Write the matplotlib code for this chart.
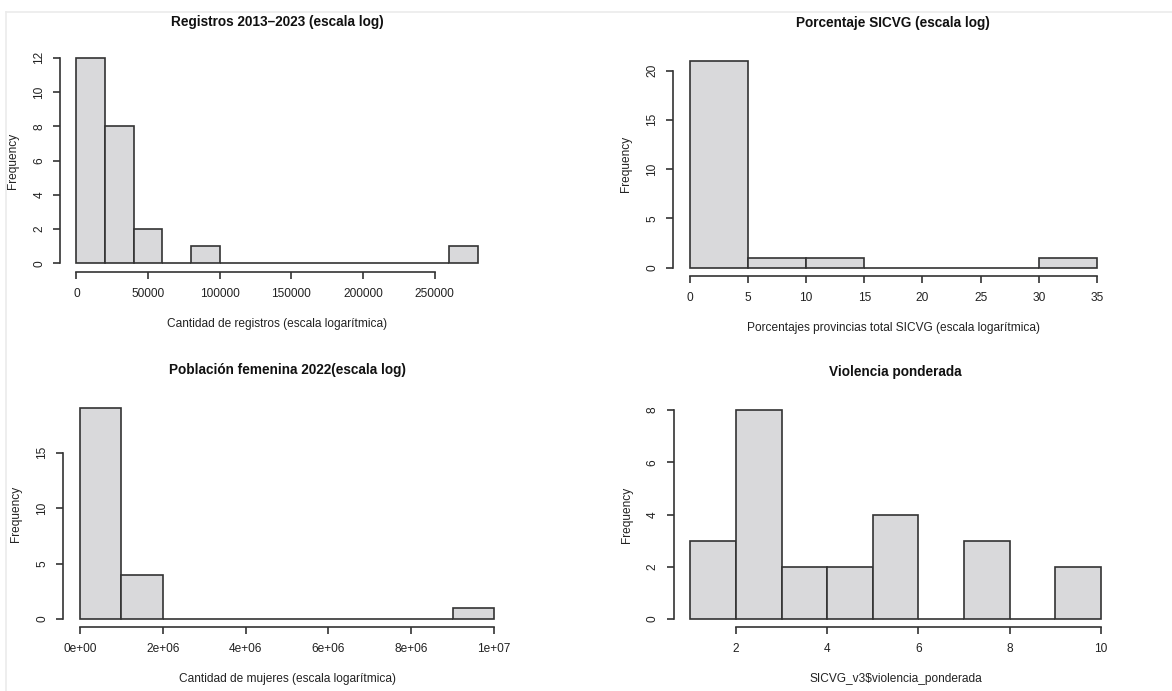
import matplotlib.pyplot as plt
import numpy as np
from matplotlib.lines import Line2D

plt.rcParams['font.family'] = ['Liberation Sans', 'DejaVu Sans']

# histogram bins (edges) and counts
reg_edges = np.arange(0, 280001, 20000)
reg_counts = [12, 8, 2, 0, 1, 0, 0, 0, 0, 0, 0, 0, 0, 1]

pct_edges = np.arange(0, 36, 5)
pct_counts = [21, 1, 1, 0, 0, 0, 1]

pob_edges = np.arange(0, 1e7 + 1, 1e6)
pob_counts = [19, 4, 0, 0, 0, 0, 0, 0, 0, 1]

vio_edges = np.arange(1, 11, 1)
vio_counts = [3, 8, 2, 2, 4, 0, 3, 0, 2]

# ticks and labels
reg_xticks = [0, 50000, 100000, 150000, 200000, 250000]
reg_xlabels = ['0', '50000', '100000', '150000', '200000', '250000']
reg_yticks = [0, 2, 4, 6, 8, 10, 12]

pct_xticks = [0, 5, 10, 15, 20, 25, 30, 35]
pct_xlabels = ['0', '5', '10', '15', '20', '25', '30', '35']
pct_yticks = [0, 5, 10, 15, 20]

pob_xticks = [0, 2e6, 4e6, 6e6, 8e6, 1e7]
pob_xlabels = ['0e+00', '2e+06', '4e+06', '6e+06', '8e+06', '1e+07']
pob_yticks = [0, 5, 10, 15]

vio_xticks = [2, 4, 6, 8, 10]
vio_xlabels = ['2', '4', '6', '8', '10']
vio_yticks = [0, 2, 4, 6, 8]

W, H = 1172, 691
fig = plt.figure(figsize=(W / 100, H / 100), dpi=100)

PX = 0.72  # points per pixel at 100 dpi
TXT = '#222222'


def r_hist(box, edges, counts, xticks, xlabels, yticks, title, xlabel, tpad):
    l, r, t, b = box
    ax = fig.add_axes([l / W, 1 - b / H, (r - l) / W, (b - t) / H])
    edges = np.asarray(edges, dtype=float)
    ax.bar(edges[:-1], counts, width=np.diff(edges), align='edge',
           color='#d9d9db', edgecolor='#333333', linewidth=1.2)
    # R style: 4% padding around data range
    xr = edges[-1] - edges[0]
    yr = max(counts)
    ax.set_xlim(edges[0] - 0.04 * xr, edges[-1] + 0.04 * xr)
    ax.set_ylim(-0.04 * yr, yr * 1.04)
    for s in ['top', 'right']:
        ax.spines[s].set_visible(False)
    for s in ['left', 'bottom']:
        ax.spines[s].set_color('#333333')
        ax.spines[s].set_linewidth(1.2)
    ax.spines['bottom'].set_bounds(xticks[0], xticks[-1])
    ax.spines['left'].set_bounds(yticks[0], yticks[-1])
    ax.set_xticks(xticks)
    ax.set_xticklabels(xlabels)
    ax.set_yticks(yticks)
    ax.set_yticklabels([str(v) for v in yticks], rotation=90, va='center')
    ax.tick_params(length=7 * PX, width=1.2, color='#333333', labelsize=8.6,
                   labelcolor=TXT, pad=9 * PX)
    ax.tick_params(axis='y', pad=8 * PX)
    ax.patch.set_alpha(0)
    ax.annotate(title, xy=(0.5, 1), xycoords='axes fraction',
                xytext=(0, tpad * PX), textcoords='offset points',
                ha='center', va='center', fontsize=9.8, fontweight='bold',
                color='#111111')
    ax.annotate(xlabel, xy=(0.5, 0), xycoords='axes fraction',
                xytext=(0, -52 * PX), textcoords='offset points',
                ha='center', va='center', fontsize=8.6, color=TXT)
    ax.annotate('Frequency', xy=(0, 0.5), xycoords='axes fraction',
                xytext=(-47 * PX, 0), textcoords='offset points',
                ha='center', va='center', fontsize=8.6, color=TXT, rotation=90)
    return ax


r_hist((60.3, 493.7, 49.5, 271.5), reg_edges, reg_counts, reg_xticks,
       reg_xlabels, reg_yticks, 'Registros 2013\u20132023 (escala log)',
       'Cantidad de registros (escala logar\u00edtmica)', 27.5)
r_hist((673.4, 1113.3, 52.4, 276.0), pct_edges, pct_counts, pct_xticks,
       pct_xlabels, pct_yticks, 'Porcentaje SICVG (escala log)',
       'Porcentajes provincias total SICVG (escala logar\u00edtmica)', 29.5)
r_hist((63.4, 510.6, 399.9, 627.4), pob_edges, pob_counts, pob_xticks,
       pob_xlabels, pob_yticks, 'Poblaci\u00f3n femenina 2022(escala log)',
       'Cantidad de mujeres (escala logar\u00edtmica)', 30)
r_hist((673.8, 1117.5, 401.6, 627.4), vio_edges, vio_counts, vio_xticks,
       vio_xlabels, vio_yticks, 'Violencia ponderada',
       'SICVG_v3$violencia_ponderada', 30)

# light frame of the screenshot
fig.add_artist(Line2D([5.7 / W, 1], [1 - 11.7 / H, 1 - 11.7 / H],
                      color='#ebebeb', linewidth=1.2))
fig.add_artist(Line2D([5.7 / W, 5.7 / W], [0, 1 - 11.7 / H],
                      color='#ebebeb', linewidth=1.2))

fig.savefig('out.png', dpi=100)
